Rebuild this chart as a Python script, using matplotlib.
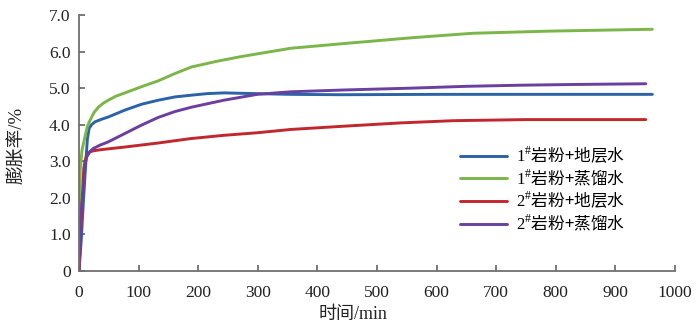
import matplotlib
matplotlib.use("Agg")
import matplotlib.pyplot as plt
from matplotlib.font_manager import FontProperties


# 1#岩粉+地层水
x_blue = [0, 4, 7, 10, 12, 14, 17, 21, 27, 38, 49, 77, 105, 133, 161, 190, 215, 243, 270, 299, 355, 439, 600, 800, 962]
y_blue = [0, 0.9, 1.8, 2.6, 3.1, 3.6, 3.9, 4.0, 4.08, 4.15, 4.21, 4.40, 4.56, 4.67, 4.76, 4.81, 4.85, 4.87, 4.86, 4.85, 4.83, 4.82, 4.83, 4.83, 4.83]

# 1#岩粉+蒸馏水
x_green = [0, 0.5, 1, 2, 5, 10, 14, 18.5, 25, 32, 40, 49, 62, 77, 105, 133, 161, 189, 230, 271, 355, 445, 560, 660, 792, 962]
y_green = [0, 1.0, 1.85, 2.76, 3.3, 3.67, 3.95, 4.12, 4.33, 4.47, 4.58, 4.67, 4.78, 4.87, 5.04, 5.20, 5.40, 5.58, 5.73, 5.86, 6.09, 6.22, 6.38, 6.50, 6.56, 6.61]

# 2#岩粉+地层水
x_red = [0, 4, 8, 10, 12, 15, 18.5, 25, 38, 77, 133, 187, 243, 299, 355, 445, 540, 628, 750, 951]
y_red = [0, 1.5, 2.8, 3.0, 3.12, 3.2, 3.26, 3.29, 3.32, 3.39, 3.50, 3.62, 3.71, 3.78, 3.87, 3.96, 4.05, 4.11, 4.14, 4.14]

# 2#岩粉+蒸馏水
x_purple = [0, 1.5, 4, 7, 10, 13, 18, 24, 35, 49, 77, 105, 133, 161, 189, 243, 299, 355, 445, 558, 650, 740, 829, 951]
y_purple = [0, 1.2, 1.7, 2.12, 2.9, 3.12, 3.26, 3.35, 3.44, 3.53, 3.76, 3.99, 4.20, 4.36, 4.48, 4.67, 4.83, 4.90, 4.95, 5.00, 5.05, 5.08, 5.10, 5.12]

labels = [
    r"$\mathrm{1}^{\#}$岩粉+地层水",
    r"$\mathrm{1}^{\#}$岩粉+蒸馏水",
    r"$\mathrm{2}^{\#}$岩粉+地层水",
    r"$\mathrm{2}^{\#}$岩粉+蒸馏水",
]
colors = ["#2b63a6", "#7ab648", "#c1272d", "#6b3fa0"]

x_ticks = [0, 100, 200, 300, 400, 500, 600, 700, 800, 900, 1000]
y_ticks = [0, 1, 2, 3, 4, 5, 6, 7]
y_ticklabels = ["0", "1.0", "2.0", "3.0", "4.0", "5.0", "6.0", "7.0"]


def main():
    plt.rcParams["font.family"] = ["Liberation Serif", "Noto Sans CJK SC"]
    plt.rcParams["mathtext.fontset"] = "custom"
    plt.rcParams["mathtext.rm"] = "Liberation Serif"

    fig = plt.figure(figsize=(6.98, 3.3), dpi=100)
    ax = fig.add_axes([79 / 698, 1 - 271 / 330, 596 / 698, 256 / 330])

    series = [
        (x_blue, y_blue),
        (x_green, y_green),
        (x_red, y_red),
        (x_purple, y_purple),
    ]
    for (xs, ys), c, lab in zip(series, colors, labels):
        ax.plot(xs, ys, color=c, lw=2.1, label=lab,
                solid_capstyle="round", solid_joinstyle="round")

    ax.set_xlim(0, 1000)
    ax.set_ylim(0, 7)
    ax.set_xticks(x_ticks)
    ax.set_yticks(y_ticks)
    ax.set_yticklabels(y_ticklabels)

    for side in ["top", "right"]:
        ax.spines[side].set_visible(False)
    for side in ["left", "bottom"]:
        ax.spines[side].set_color("#707070")
        ax.spines[side].set_linewidth(1.3)

    ax.tick_params(axis="both", direction="in", length=4, width=1.3,
                   color="#707070", labelsize=12.5, labelcolor="#222222")
    ax.tick_params(axis="x", pad=10)
    ax.tick_params(axis="y", pad=6)

    fig.text(18 / 698, 1 - 145 / 330, "膨胀率/%", rotation=90,
             ha="center", va="center", fontsize=13.5, color="#222222")
    fig.text(353 / 698, 1 - 315 / 330, "时间/min",
             ha="center", va="center", fontsize=13, color="#222222")

    ax.legend(loc="upper left", bbox_to_anchor=(460 / 698, 1 - 145 / 330),
              bbox_transform=fig.transFigure, frameon=False,
              prop=FontProperties(family="Noto Sans CJK SC", size=12),
              handlelength=2.8, handletextpad=0.55, labelspacing=0.12,
              borderpad=0, borderaxespad=0)

    fig.savefig("out.png", dpi=100)
    plt.close(fig)


if __name__ == "__main__":
    main()
